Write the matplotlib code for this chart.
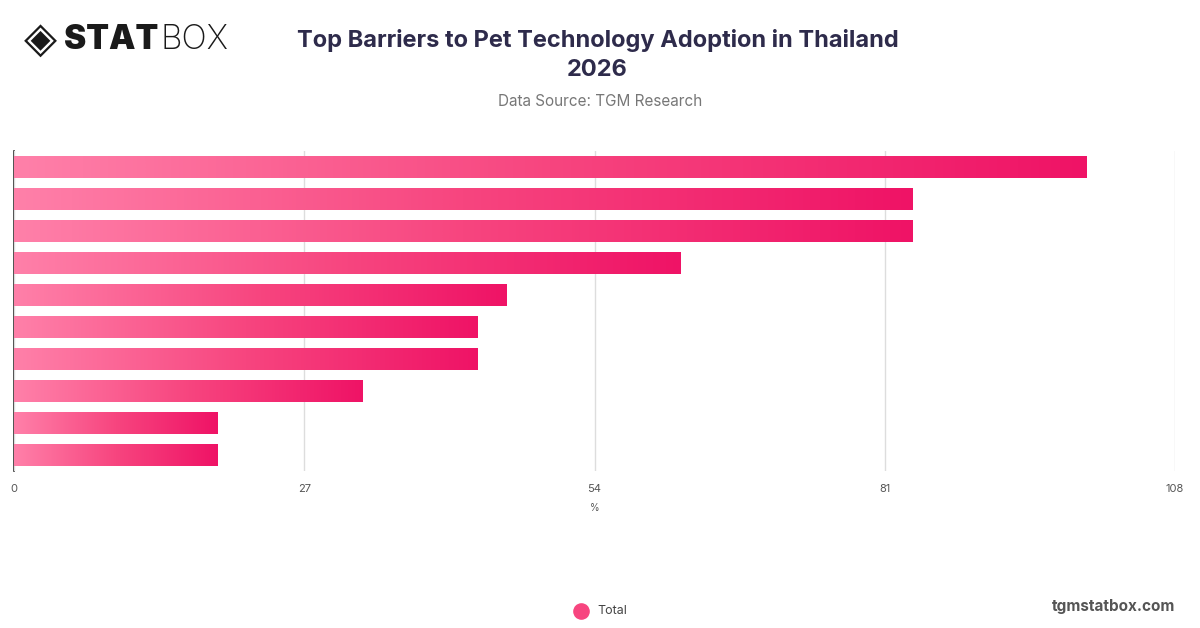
import matplotlib
matplotlib.use("Agg")
import matplotlib.pyplot as plt
import numpy as np
from matplotlib.colors import LinearSegmentedColormap

# values (percent), top to bottom
categories = ["B1", "B2", "B3", "B4", "B5", "B6", "B7", "B8", "B9", "B10"]
values = [99.8, 83.6, 83.6, 62.0, 45.8, 43.1, 43.1, 32.4, 18.9, 18.9]
xticks = [0, 27, 54, 81, 108]

title = "Top Barriers to Pet Technology Adoption in Thailand\n2026"
subtitle = "Data Source: TGM Research"

plt.rcParams['font.family'] = ['Inter', 'DejaVu Sans']

fig = plt.figure(figsize=(12, 6.28), dpi=100)
ax = fig.add_axes([14/1200, 1 - 471/628, 1161/1200, 320/628])

ypos = np.arange(len(categories))
bars = ax.barh(ypos, values, height=0.67, color="none", edgecolor="none", zorder=3)

cmap = LinearSegmentedColormap.from_list("pink", ["#ff80a9", "#f7457f", "#ef1366"])
grad = np.linspace(0, 1, 256).reshape(1, -1)
for b in bars:
    x0, y0 = b.get_x(), b.get_y()
    w, h = b.get_width(), b.get_height()
    im = ax.imshow(grad, cmap=cmap, aspect="auto", extent=(x0, x0 + w, y0 + h, y0),
                   zorder=3, interpolation="bicubic")
    im.set_clip_path(b)

ax.set_xlim(0, 108)
ax.set_ylim(len(categories) - 0.5, -0.5)
ax.set_xticks(xticks)
ax.set_xticklabels([str(t) for t in xticks])
ax.set_yticks([])
ax.tick_params(axis="x", length=0, pad=9, labelsize=8, labelcolor="#555555")
ax.grid(axis="x", color="#dddddd", linewidth=1, zorder=0)
for s in ["top", "right", "bottom"]:
    ax.spines[s].set_visible(False)
ax.spines["left"].set_color("#333333")
ax.spines["left"].set_linewidth(1.2)
ax.spines["left"].set_zorder(1)
ax.set_xlabel("%", fontsize=7, color="#555555", labelpad=7)

fig.text(0.498, 1 - 55/628, title, ha="center", va="center", fontsize=17,
         fontweight="bold", color="#2e2b4b", linespacing=1.45)
fig.text(0.5, 1 - 101/628, subtitle, ha="center", va="center", fontsize=11,
         color="#777777")

# logo
fig.text(24/1200, 1 - 40/628, "◈", ha="left", va="center", fontsize=31,
         color="#1a1a1a", family="DejaVu Sans")
fig.text(64/1200, 1 - 40/628, "STAT", ha="left", va="center", fontsize=24,
         fontweight="black", color="#1a1a1a")
fig.text(160/1200, 1 - 40/628, "BOX", ha="left", va="center", fontsize=24,
         fontweight="light", color="#1a1a1a")

# legend
ax.scatter([], [], s=120, color="#f7457f", label="Total")
fig.legend(loc="center", bbox_to_anchor=(0.498, 1 - 611/628), frameon=False,
           fontsize=9, handletextpad=0.3, labelcolor="#444444")

fig.text(1175/1200, 1 - 606/628, "tgmstatbox.com", ha="right", va="center",
         fontsize=11, fontweight="bold", color="#555555")

fig.savefig("out.png", dpi=100)
